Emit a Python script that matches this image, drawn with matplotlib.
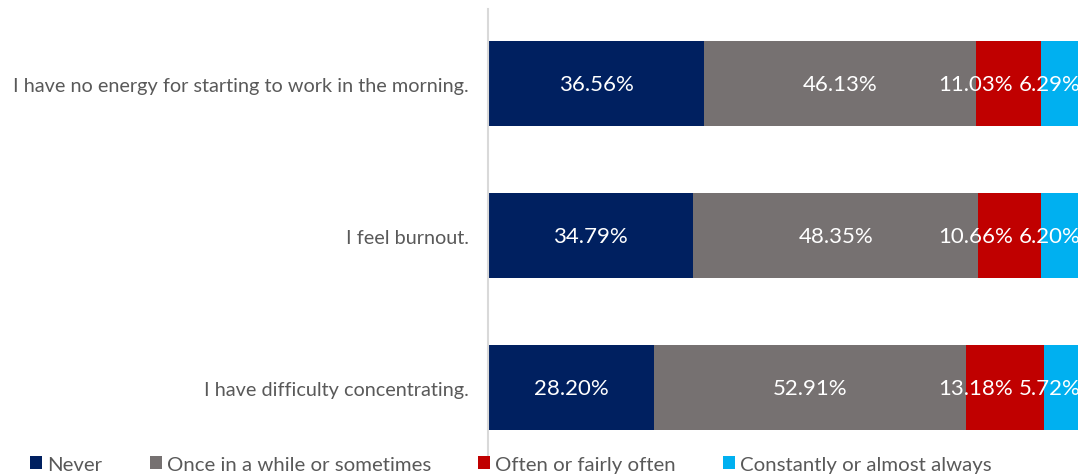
import numpy as np
import matplotlib.pyplot as plt
from matplotlib.patches import Patch

plt.rcParams['font.family'] = ['Lato', 'DejaVu Sans']

# Survey items, top to bottom
items = [
    "I have no energy for starting to work in the morning.",
    "I feel burnout.",
    "I have difficulty concentrating.",
]
responses = ["Never", "Once in a while or sometimes",
             "Often or fairly often", "Constantly or almost always"]
never = [36.56, 34.79, 28.20]
sometimes = [46.13, 48.35, 52.91]
often = [11.03, 10.66, 13.18]
always = [6.29, 6.20, 5.72]

colors = ["#002060", "#767171", "#C00000", "#00B0F0"]
text_grey = "#595959"

fig = plt.figure(figsize=(10.8, 4.77), dpi=100)
ax = fig.add_axes([0.452, 0.035, 0.546, 0.944])

y = np.arange(len(items))
series = [never, sometimes, often, always]
left = np.zeros(len(items))
for vals, col in zip(series, colors):
    ax.barh(y, vals, left=left, height=0.56, color=col, edgecolor="none")
    left += np.array(vals)

# value labels: the first two are centred in their segments,
# the two narrow ones sit at fixed spots near the right end
for i in range(len(items)):
    ax.text(never[i] / 2, y[i], f"{never[i]:.2f}%", color="white",
            ha="center", va="center", fontsize=16)
    ax.text(never[i] + sometimes[i] / 2, y[i], f"{sometimes[i]:.2f}%",
            color="white", ha="center", va="center", fontsize=16)
    ax.text(82.6, y[i], f"{often[i]:.2f}%", color="white",
            ha="center", va="center", fontsize=16)
    ax.text(95.3, y[i], f"{always[i]:.2f}%", color="white",
            ha="center", va="center", fontsize=16, clip_on=False)

ax.set_xlim(0, 100)
ax.set_ylim(2.47, -0.49)
ax.set_yticks(y)
ax.set_yticklabels(items, fontsize=14.3, color=text_grey)
ax.tick_params(axis="y", length=0, pad=14)
ax.set_xticks([])
for side in ["top", "right", "bottom"]:
    ax.spines[side].set_visible(False)
ax.spines["left"].set_color("#D9D9D9")
ax.spines["left"].set_linewidth(1.5)

handles = [Patch(facecolor=c, edgecolor="none") for c in colors]
fig.legend(handles, responses, loc="lower left", bbox_to_anchor=(0.028, 0.006),
           ncol=4, frameon=False, fontsize=14.7, labelcolor=text_grey,
           borderpad=0, borderaxespad=0,
           handlelength=0.6, handleheight=0.6, handletextpad=0.25,
           columnspacing=2.3)

fig.savefig("out.png", dpi=100)
